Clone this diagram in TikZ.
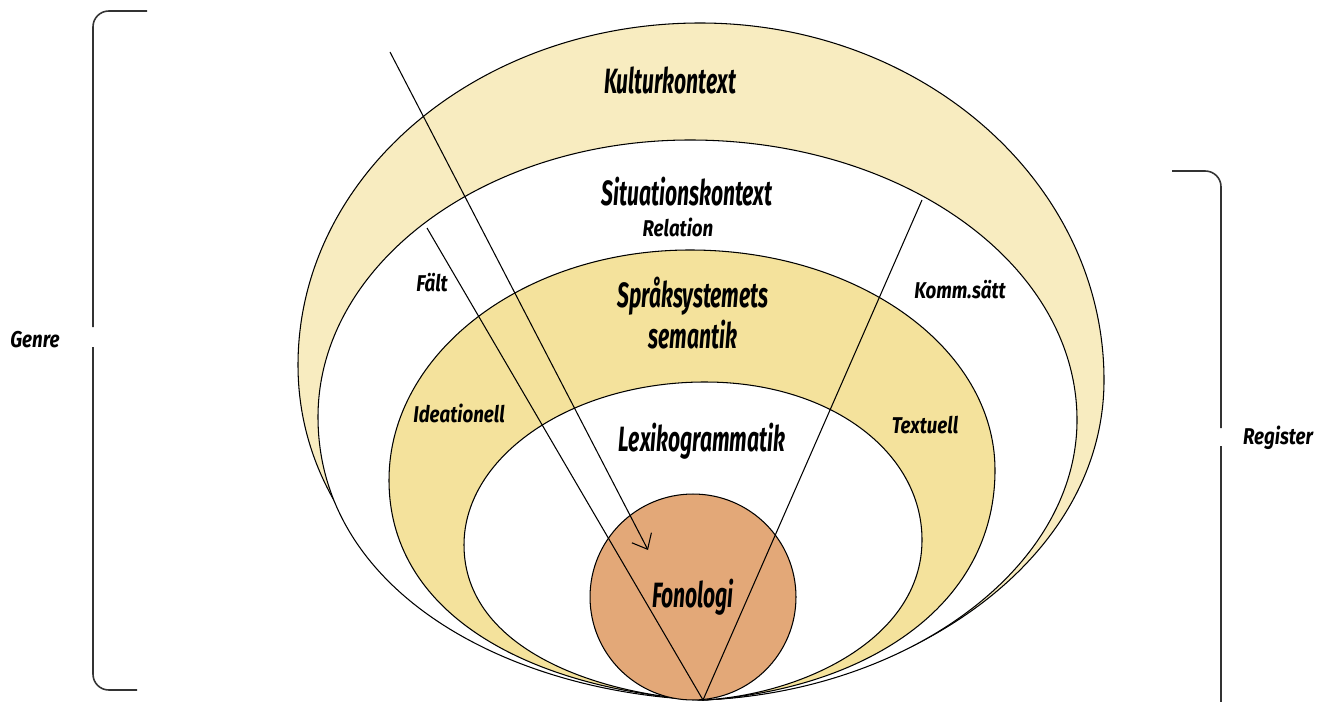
\documentclass[tikz,border=0pt]{standalone}
\usepackage{fontspec}
\setmainfont{Fira Sans}[FakeStretch=0.6]
\newfontfamily\labelfam{Fira Sans}[FakeStretch=0.82]
\usetikzlibrary{arrows.meta}
\usetikzlibrary{positioning}
\definecolor{kultur}{HTML}{F8ECC0}
\definecolor{sprak}{HTML}{F4E29C}
\definecolor{fono}{HTML}{E3A878}

\begin{document}
\begin{tikzpicture}[x=0.02cm, y=-0.02cm,
		ring/.style = {draw=black,	line width=0.6pt},
		big/.style	= {font=\fontsize{20}{23}\selectfont\bfseries\itshape,	inner sep=0pt, align=center},
		small/.style = {font=\labelfam\fontsize{13}{15}\selectfont\bfseries\itshape,	inner sep=0pt},
		l/.style	= {draw=black,	line width=0.6pt},
		br/.style	= {draw=black!80,	line width=0.9pt,	rounded corners=9pt}
		]
		
		\useasboundingbox (0,0) rectangle (1324,702);
		
		%Points
		\coordinate	(bot)	at	(703,700);
		\coordinate	(pil)	at	(390,52);
		\coordinate	(pilend)	at	(648,550);
		\coordinate	(vs)	at	(427,228);
		\coordinate	(hs)	at	(922,200);
		
		%Rings
		\draw[ring, fill=kultur]	(bot)	.. controls (500,690) and (298,560) .. (298,365)
			.. controls (298,175) and (478,23) .. (700,23)
			.. controls (923,23) and (1104,183) .. (1104,380)
			.. controls (1104,560) and (910,690) .. (bot);
		\draw[ring, fill=white]	(bot)	.. controls (505,692) and (318,590) .. (318,417)
			.. controls (318,264) and (485,140) .. (690,140)
			.. controls (904,140) and (1077,265) .. (1077,420)
			.. controls (1077,570) and (905,692) .. (bot);
		\draw[ring, fill=sprak]	(bot)	.. controls (540,690) and (389,620) .. (389,480)
			.. controls (389,353) and (524,250) .. (690,250)
			.. controls (858,250) and (995,348) .. (995,470)
			.. controls (995,610) and (860,690) .. (bot);
		\draw[ring, fill=white]	(bot)	.. controls (600,695) and (464,650) .. (464,545)
			.. controls (464,455) and (573,382) .. (705,382)
			.. controls (829,382) and (922,451) .. (922,540)
			.. controls (922,640) and (800,695) .. (bot);
		\node[ring, circle, fill=fono, minimum size=4.12cm]	(fon)	at	(693,597)	{};
		
		%Lines
		\draw[l, -{Straight Barb[length=2.6mm, width=4.4mm]}]	(pil)	--	(pilend);
		\draw[l]	(vs)	--	(bot);
		\draw[l]	(hs)	--	(bot);
		
		%Brackets
		\draw[br]	(147,11)	--	(93,11)		--	(93,327);
		\draw[br]	(93,347)	--	(93,690)	--	(137,690);
		\draw[br]	(1172,171)	--	(1221,171)	--	(1221,428);
		\draw[br]	(1221,446)	--	(1221,702);
		
		%Labels
		\node[big]		(kul)	at	(670,80)	{Kulturkontext};
		\node[big]		(sit)	at	(687,192)	{Situationskontext};
		\node[small]	(rel)	at	(678,227)	{Relation};
		\node[small]	(fal)	at	(432,283)	{Fält};
		\node[big]		(spr)	at	(693,313)	{Språksystemets\\semantik};
		\node[small]	(kom)	at	(960,290)	{Komm.sätt};
		\node[small]	(ide)	at	(459,413)	{Ideationell};
		\node[small]	(tex)	at	(925,425)	{Textuell};
		\node[big]		(lex)	at	(702,441)	{Lexikogrammatik};
		\node[big]		(fonl)	at	(fon)		{Fonologi};
		\node[small]	(gen)	at	(35,340)	{Genre};
		\node[small]	(reg)	at	(1278,438)	{Register};
	\end{tikzpicture}
\end{document}
